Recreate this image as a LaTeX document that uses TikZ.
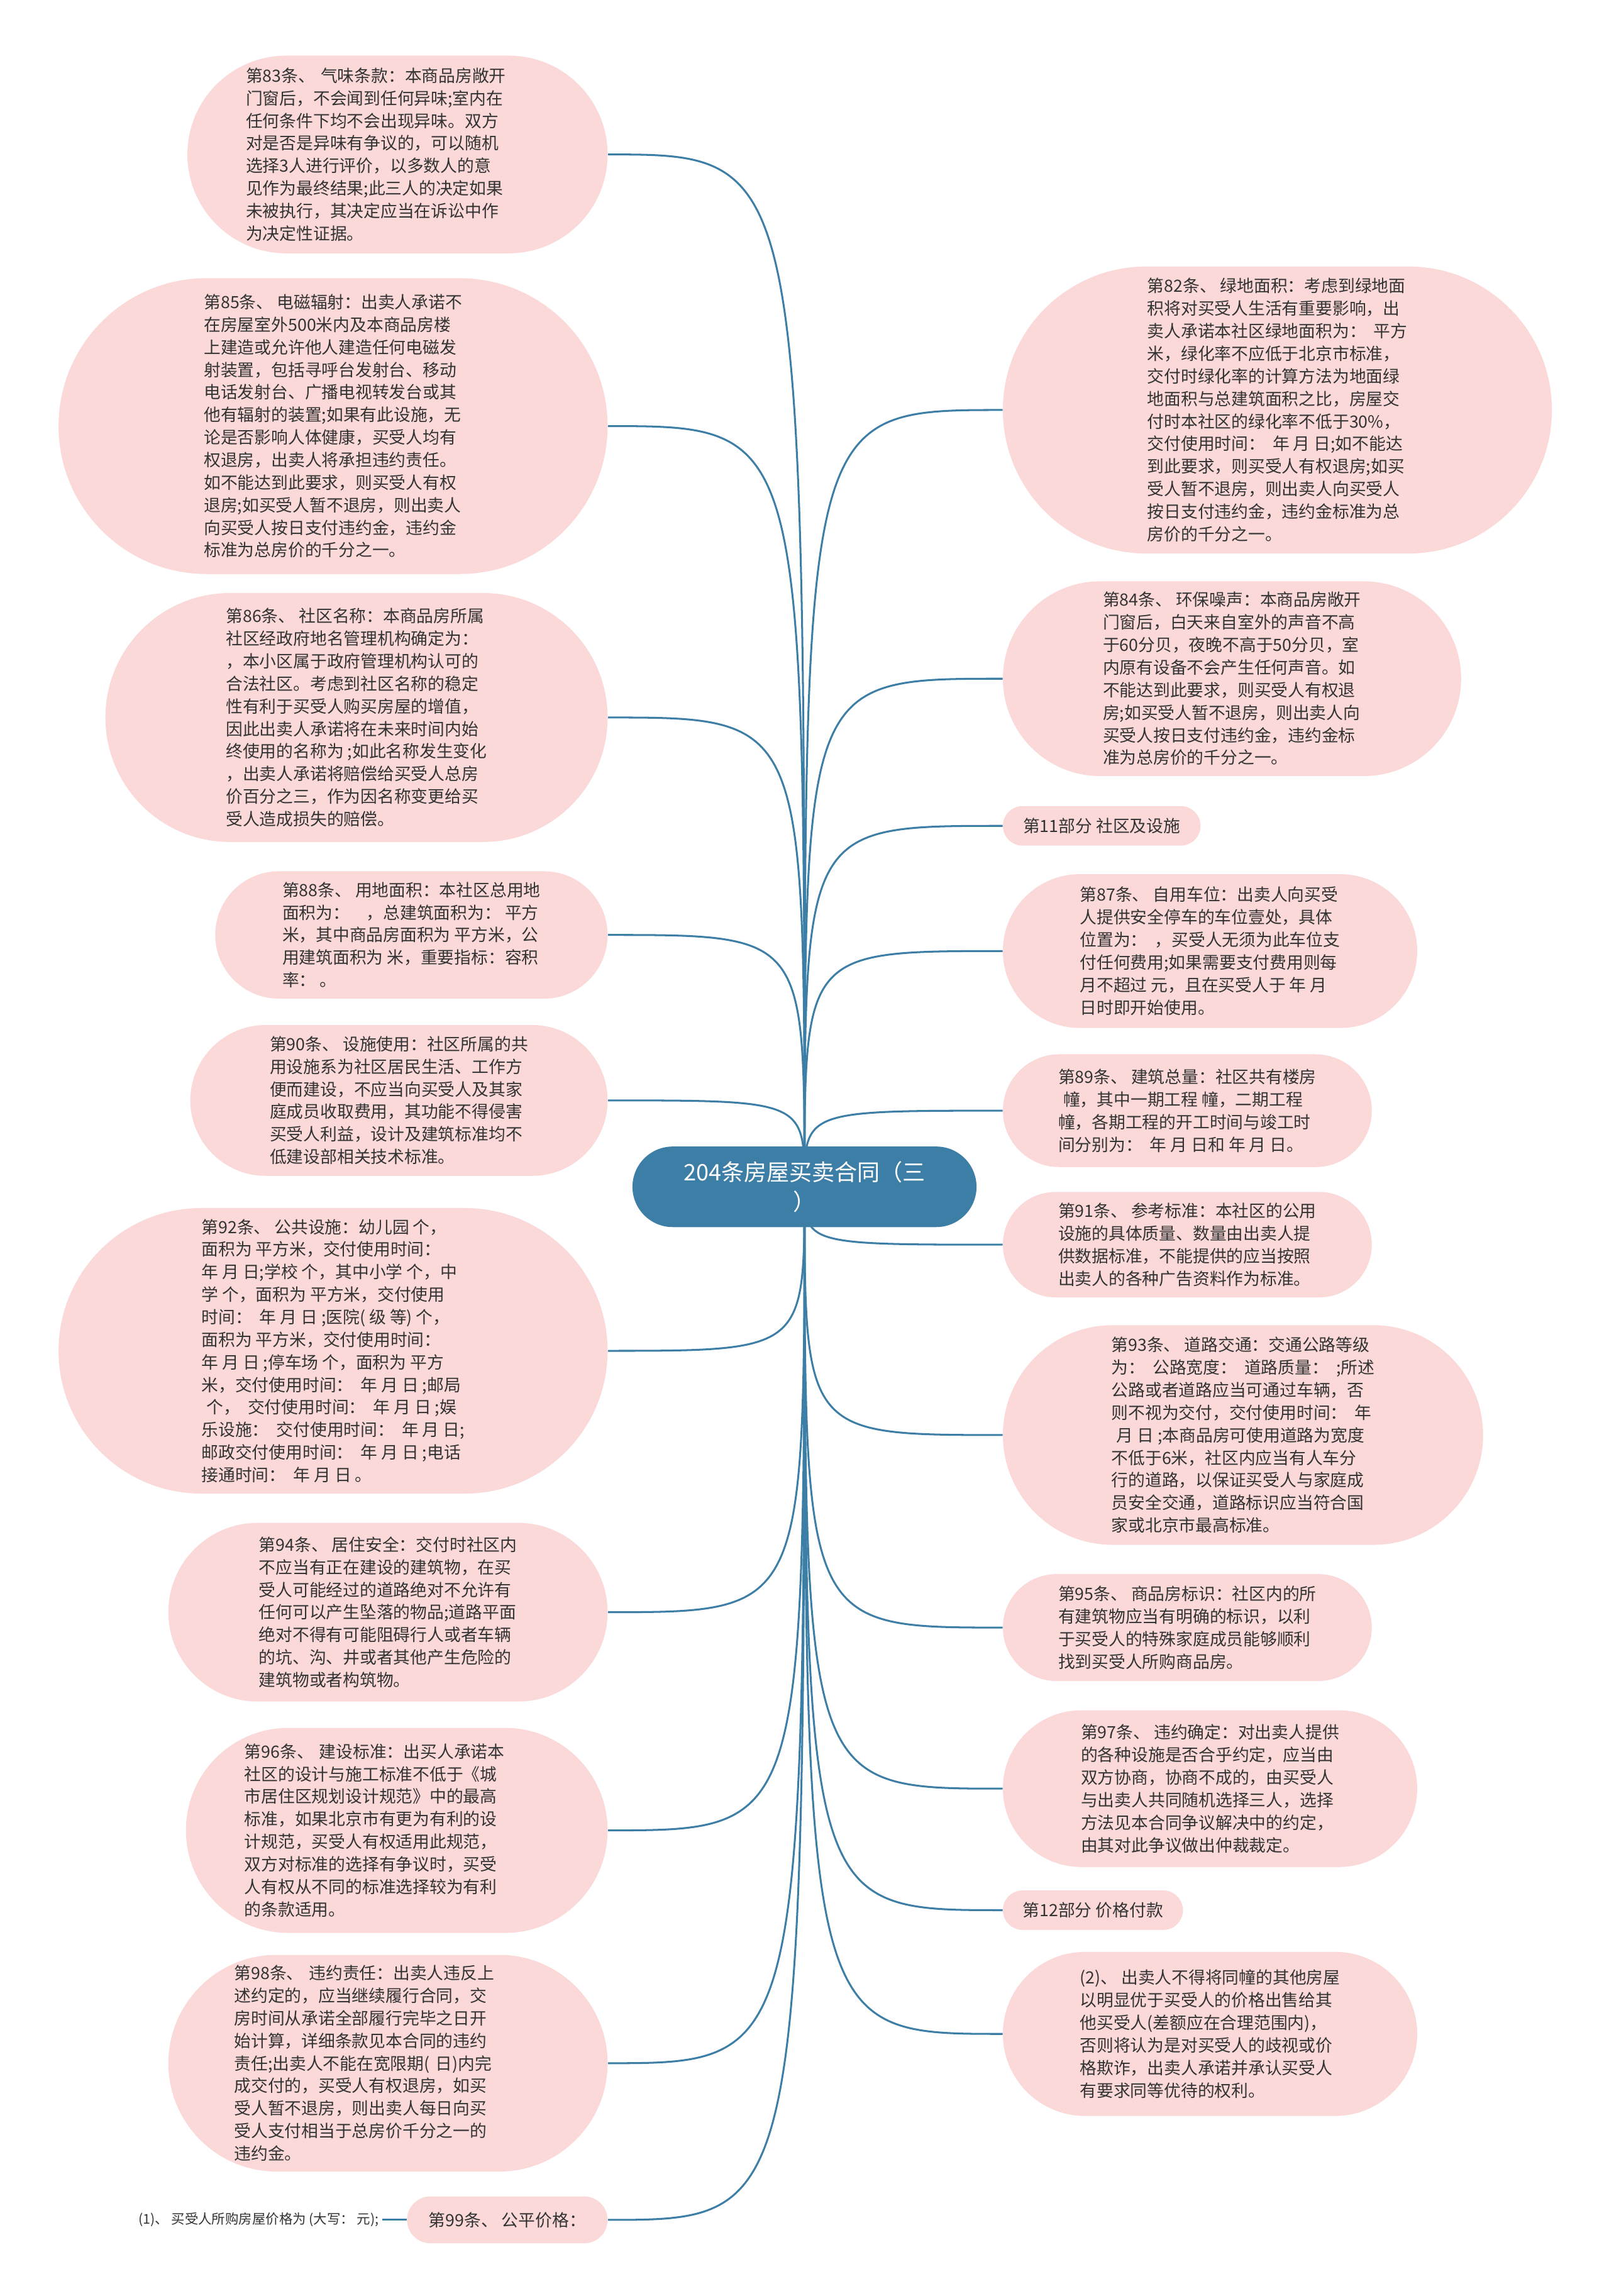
\documentclass[tikz,border=0pt]{standalone}
\usepackage{fontspec}
\newfontfamily\cjk{Noto Sans CJK SC}
\usetikzlibrary{backgrounds}
\definecolor{myBlue}{HTML}{3D7EA6}
\definecolor{myPink}{HTML}{FBD9D9}
\definecolor{myText}{HTML}{333333}

\tikzset{
  pill/.style 2 args={fill=myPink, minimum width=#1, minimum height=#2,
    rounded corners=#2/2, inner sep=0pt, align=left, text=myText,
    font=\cjk\fontsize{11.5}{15.4}\selectfont},
  root/.style={fill=myBlue, minimum width=235, minimum height=55,
    rounded corners=27.5, inner sep=0pt, align=center, text=white,
    font=\cjk\fontsize{15.5}{20}\selectfont},
  link/.style={draw=myBlue, line width=1.3pt},
}

\begin{document}
\begin{tikzpicture}[x=1pt, y=-1pt]
\useasboundingbox (0,0) rectangle (1099,1568);

\node[root] (root) at (549.5,810.5) {204条房屋买卖合同（三\\）};

% left side
\node[pill={287}{135}, text width=207] (n83) at (271.5,105.5) {第83条、 气味条款：本商品房敞开\\门窗后，不会闻到任何异味;室内在\\任何条件下均不会出现异味。双方\\对是否是异味有争议的，可以随机\\选择3人进行评价，以多数人的意\\见作为最终结果;此三人的决定如果\\未被执行，其决定应当在诉讼中作\\为决定性证据。};

\node[pill={375}{202}] (n85) at (227.5,291) {第85条、 电磁辐射：出卖人承诺不\\在房屋室外500米内及本商品房楼\\上建造或允许他人建造任何电磁发\\射装置，包括寻呼台发射台、移动\\电话发射台、广播电视转发台或其\\他有辐射的装置;如果有此设施，无\\论是否影响人体健康，买受人均有\\权退房，出卖人将承担违约责任。\\如不能达到此要求，则买受人有权\\退房;如买受人暂不退房，则出卖人\\向买受人按日支付违约金，违约金\\标准为总房价的千分之一。};

\node[pill={343}{170}] (n86) at (243.5,490) {第86条、 社区名称：本商品房所属\\社区经政府地名管理机构确定为：\\，本小区属于政府管理机构认可的\\合法社区。考虑到社区名称的稳定\\性有利于买受人购买房屋的增值，\\因此出卖人承诺将在未来时间内始\\终使用的名称为 ;如此名称发生变化\\，出卖人承诺将赔偿给买受人总房\\价百分之三，作为因名称变更给买\\受人造成损失的赔偿。};

\node[pill={268}{87}] (n88) at (281,638.5) {第88条、 用地面积：本社区总用地\\面积为：\quad ，总建筑面积为：\ 平方\\米，其中商品房面积为 平方米，公\\用建筑面积为 米，重要指标：容积\\率：\ 。};

\node[pill={285}{103}] (n90) at (272.5,751.5) {第90条、 设施使用：社区所属的共\\用设施系为社区居民生活、工作方\\便而建设，不应当向买受人及其家\\庭成员收取费用，其功能不得侵害\\买受人利益，设计及建筑标准均不\\低建设部相关技术标准。};

\node[pill={375}{195}] (n92) at (227.5,922.5) {第92条、 公共设施：幼儿园 个，\\面积为 平方米，交付使用时间：\\年 月 日;学校 个，其中小学 个，中\\学 个，面积为 平方米，交付使用\\时间：\ \ 年 月 日 ;医院( 级 等) 个，\\面积为 平方米，交付使用时间：\\年 月 日 ;停车场 个，面积为 平方\\米，交付使用时间：\ \ 年 月 日 ;邮局\\\hspace*{0.3em}个，\ \ 交付使用时间：\ \ 年 月 日 ;娱\\乐设施：\ \ 交付使用时间：\ \ 年 月 日;\\邮政交付使用时间：\ \ 年 月 日 ;电话\\接通时间：\ \ 年 月 日 。};

\node[pill={300}{122}] (n94) at (265,1101) {第94条、 居住安全：交付时社区内\\不应当有正在建设的建筑物，在买\\受人可能经过的道路绝对不允许有\\任何可以产生坠落的物品;道路平面\\绝对不得有可能阻碍行人或者车辆\\的坑、沟、井或者其他产生危险的\\建筑物或者构筑物。};

\node[pill={288}{140}, text width=208] (n96) at (271,1250) {第96条、 建设标准：出买人承诺本\\社区的设计与施工标准不低于《城\\市居住区规划设计规范》中的最高\\标准，如果北京市有更为有利的设\\计规范，买受人有权适用此规范，\\双方对标准的选择有争议时，买受\\人有权从不同的标准选择较为有利\\的条款适用。};

\node[pill={300}{148}, text width=210] (n98) at (265,1409) {第98条、 违约责任：出卖人违反上\\述约定的，应当继续履行合同，交\\房时间从承诺全部履行完毕之日开\\始计算，详细条款见本合同的违约\\责任;出卖人不能在宽限期( 日)内完\\成交付的，买受人有权退房，如买\\受人暂不退房，则出卖人每日向买\\受人支付相当于总房价千分之一的\\违约金。};

\node[pill={137}{32}] (n99) at (346.5,1516) {第99条、 公平价格：};
\node[anchor=east, inner sep=2pt, text=myText, font=\cjk\fontsize{9.2}{11}\selectfont] (price1) at (261,1516) {(1)、 买受人所购房屋价格为 (大写：\ 元);};

% right side
\node[pill={375}{196}] (n82) at (872.5,280) {第82条、 绿地面积：考虑到绿地面\\积将对买受人生活有重要影响，出\\卖人承诺本社区绿地面积为：\ \ 平方\\米，绿化率不应低于北京市标准，\\交付时绿化率的计算方法为地面绿\\地面积与总建筑面积之比，房屋交\\付时本社区的绿化率不低于30\%，\\交付使用时间：\ \ 年 月 日;如不能达\\到此要求，则买受人有权退房;如买\\受人暂不退房，则出卖人向买受人\\按日支付违约金，违约金标准为总\\房价的千分之一。};

\node[pill={313}{133}] (n84) at (841.5,463.5) {第84条、 环保噪声：本商品房敞开\\门窗后，白天来自室外的声音不高\\于60分贝，夜晚不高于50分贝，室\\内原有设备不会产生任何声音。如\\不能达到此要求，则买受人有权退\\房;如买受人暂不退房，则出卖人向\\买受人按日支付违约金，违约金标\\准为总房价的千分之一。};

\node[pill={135}{27}] (part11) at (752.5,564) {第11部分 社区及设施};

\node[pill={283}{105}] (n87) at (826.5,649.5) {第87条、 自用车位：出卖人向买受\\人提供安全停车的车位壹处，具体\\位置为：\ \ ，买受人无须为此车位支\\付任何费用;如果需要支付费用则每\\月不超过 元，且在买受人于 年 月\\日时即开始使用。};

\node[pill={252}{77}] (n89) at (811,758.5) {第89条、 建筑总量：社区共有楼房\\\hspace*{0.3em}幢，其中一期工程 幢，二期工程\\幢，各期工程的开工时间与竣工时\\间分别为：\ \ 年 月 日和 年 月 日。};

\node[pill={252}{72}] (n91) at (811,850) {第91条、 参考标准：本社区的公用\\设施的具体质量、数量由出卖人提\\供数据标准，不能提供的应当按照\\出卖人的各种广告资料作为标准。};

\node[pill={328}{150}] (n93) at (849,980) {第93条、 道路交通：交通公路等级\\为：\ \ 公路宽度：\ \ 道路质量：\ \ ;所述\\公路或者道路应当可通过车辆，否\\则不视为交付，交付使用时间：\ \ 年\\\hspace*{0.3em}月 日 ;本商品房可使用道路为宽度\\不低于6米，社区内应当有人车分\\行的道路，以保证买受人与家庭成\\员安全交通，道路标识应当符合国\\家或北京市最高标准。};

\node[pill={252}{73}] (n95) at (811,1111.5) {第95条、 商品房标识：社区内的所\\有建筑物应当有明确的标识，以利\\于买受人的特殊家庭成员能够顺利\\找到买受人所购商品房。};

\node[pill={283}{107}] (n97) at (826.5,1221.5) {第97条、 违约确定：对出卖人提供\\的各种设施是否合乎约定，应当由\\双方协商，协商不成的，由买受人\\与出卖人共同随机选择三人，选择\\方法见本合同争议解决中的约定，\\由其对此争议做出仲裁裁定。};

\node[pill={123}{27}] (part12) at (746.5,1304.5) {第12部分 价格付款};

\node[pill={283}{112}] (n2) at (826.5,1389) {(2)、 出卖人不得将同幢的其他房屋\\以明显优于买受人的价格出售给其\\他买受人(差额应在合理范围内)，\\否则将认为是对买受人的歧视或价\\格欺诈，出卖人承诺并承认买受人\\有要求同等优待的权利。};

% connectors
\begin{scope}[on background layer]
\fill[white] (0,0) rectangle (1099,1568);
\foreach \n in {n83,n85,n86,n88,n90,n92,n94,n96,n98,n99}
  \draw[link] (root.center) .. controls (root.center |- \n.east) .. (\n.east);
\foreach \n in {n82,n84,part11,n87,n89,n91,n93,n95,n97,part12,n2}
  \draw[link] (root.center) .. controls (root.center |- \n.west) .. (\n.west);
\draw[link] (n99.west) -- (price1.east);
\end{scope}
\end{tikzpicture}
\end{document}
